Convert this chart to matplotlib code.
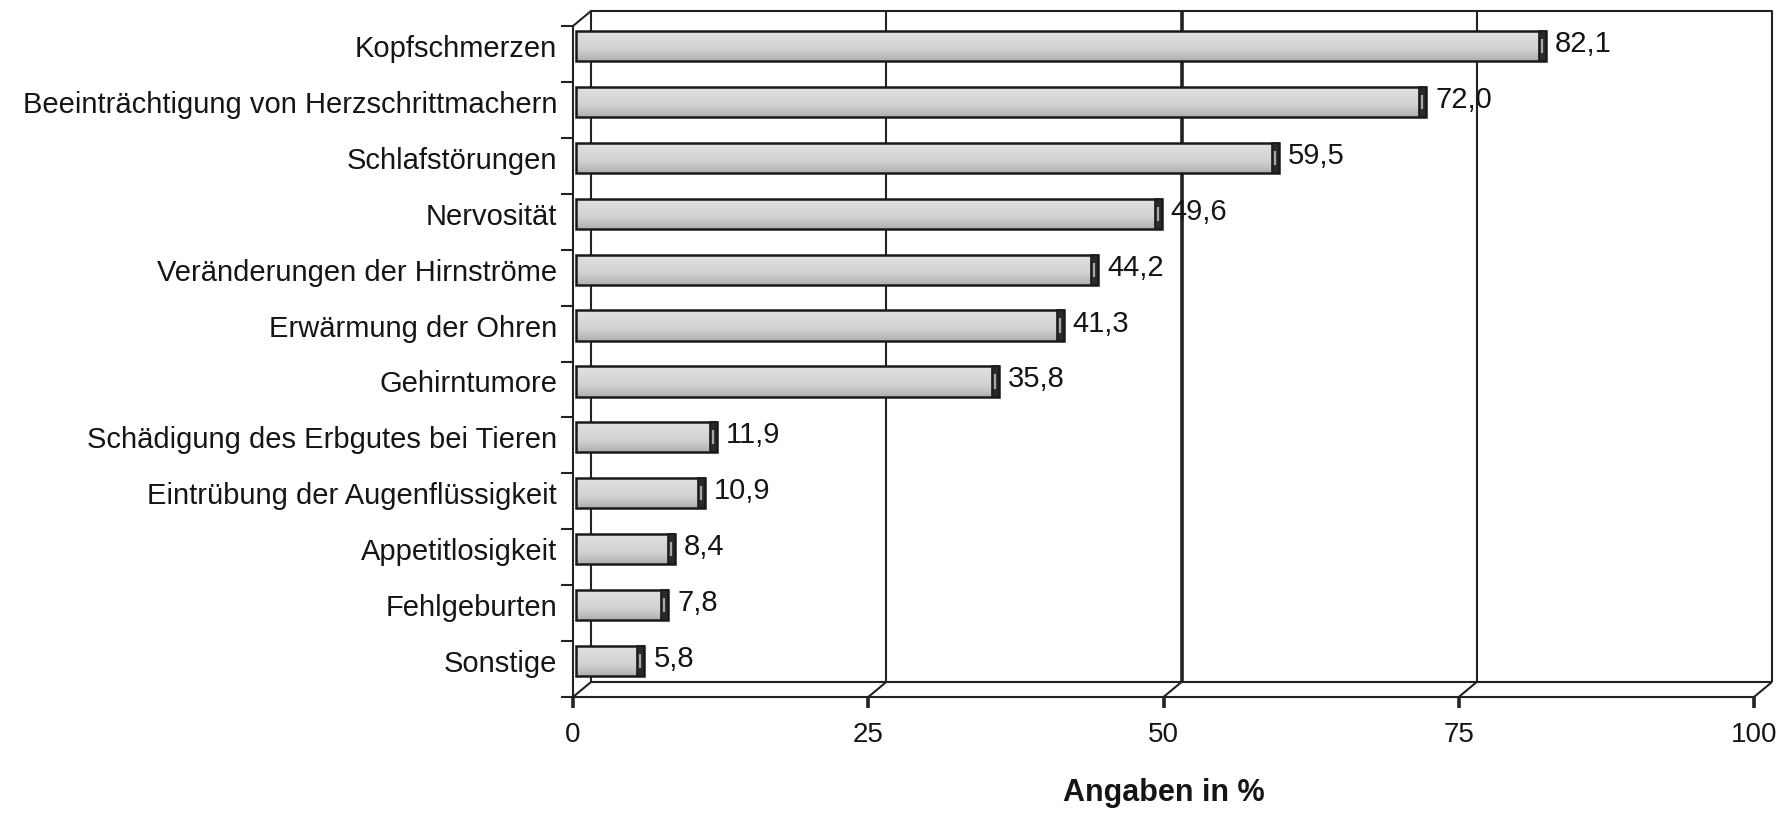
import matplotlib
matplotlib.use("Agg")
import matplotlib.pyplot as plt
from matplotlib.patches import Rectangle
import numpy as np

plt.rcParams['font.family'] = ['Liberation Sans', 'DejaVu Sans']

# Daten
kategorien = ['Kopfschmerzen', 'Beeinträchtigung von Herzschrittmachern',
              'Schlafstörungen', 'Nervosität', 'Veränderungen der Hirnströme',
              'Erwärmung der Ohren', 'Gehirntumore',
              'Schädigung des Erbgutes bei Tieren',
              'Eintrübung der Augenflüssigkeit', 'Appetitlosigkeit',
              'Fehlgeburten', 'Sonstige']
werte = [82.1, 72.0, 59.5, 49.6, 44.2, 41.3, 35.8, 11.9, 10.9, 8.4, 7.8, 5.8]
x_ticks = [0, 25, 50, 75, 100]
x_titel = 'Angaben in %'

W, H = 1792, 814
fig = plt.figure(figsize=(W / 100, H / 100), dpi=100)
# Achse = Rückwand des 3D-Rahmens
ax = fig.add_axes([591 / W, 132 / H, 1181 / W, 671 / H])
n = len(kategorien)
ax.set_xlim(0, 100)
ax.set_ylim(n - 0.5, -0.5)
ax.axis('off')

# Pixel -> Dateneinheiten
PX = 100 / 1181
PY = n / 671
FX, FY = -18 * PX, 15 * PY      # Vorderkante
BX, BY = -15 * PX, 7 * PY       # Lage der Balken
unten, oben = n - 0.5, -0.5
lc = '#222222'
lw = 1.5
tc = '#151515'

def linie(xs, ys, **kw):
    kw.setdefault('color', lc)
    kw.setdefault('lw', lw)
    ax.plot(xs, ys, clip_on=False, solid_capstyle='butt', **kw)

# Rückwand
linie([0, 0, 100, 100], [unten, oben, oben, unten])
linie([0, 100], [unten, unten])
for t in x_ticks[1:-1]:
    linie([t, t], [unten, oben], lw=2.6 if t == 50 else lw)

# Boden und linke Wand
linie([FX - 12 * PX, 100 + FX], [unten + FY, unten + FY])
for t in x_ticks:
    linie([t + FX, t], [unten + FY, unten])
    linie([t + FX, t + FX], [unten + FY, unten + FY + 11 * PY], lw=2.6)
    ax.text(t + FX, unten + FY + 38 * PY, str(t), ha='center', va='center',
            fontsize=20, color=tc)
linie([FX, FX], [unten + FY, oben + FY])
linie([FX, 0], [oben + FY, oben])
for k in range(n):
    y = k - 0.5 + FY
    linie([FX - 12 * PX, FX], [y, y])

ax.text(50 + FX, unten + FY + 96 * PY, x_titel, ha='center', va='center',
        fontsize=22, fontweight='bold', color=tc)

# Verlauf für Zylinderbalken
grad = np.array([0.88, 0.87, 0.86, 0.85, 0.84, 0.83, 0.81, 0.78, 0.74, 0.70])
grad_img = np.repeat(grad[:, None, None], 3, axis=2)

h = 0.54
for i, (name, v) in enumerate(zip(kategorien, werte)):
    yc = i + BY
    x0, x1 = BX, v + BX
    rect = Rectangle((x0, yc - h / 2), v, h, facecolor='none',
                     edgecolor='#1a1a1a', lw=1.8, zorder=4, clip_on=False)
    ax.add_patch(rect)
    im = ax.imshow(grad_img, extent=(x0, x1, yc + h / 2, yc - h / 2),
                   origin='upper', aspect='auto', zorder=3,
                   interpolation='bilinear')
    im.set_clip_path(rect)
    # Stirnseite
    ax.add_patch(Rectangle((x1 - 7 * PX, yc - h / 2), 7 * PX, h,
                           facecolor='#2a2a2a', edgecolor='#1a1a1a', lw=1.2,
                           zorder=5, clip_on=False))
    linie([x1 - 4 * PX, x1 - 4 * PX], [yc - h / 2 + 8 * PY, yc + h / 2 - 8 * PY],
          color='#a8a8a8', lw=1.6, zorder=6)
    ax.text(x1 + 9 * PX, yc - 2 * PY, f'{v:.1f}'.replace('.', ','),
            ha='left', va='center', fontsize=21, color=tc, zorder=7)
    ax.text(FX - 16 * PX, yc + 3 * PY, name, ha='right', va='center',
            fontsize=21, color=tc)

ax.set_xlim(0, 100)
ax.set_ylim(n - 0.5, -0.5)

fig.savefig('out.png', dpi=100, facecolor='white')
